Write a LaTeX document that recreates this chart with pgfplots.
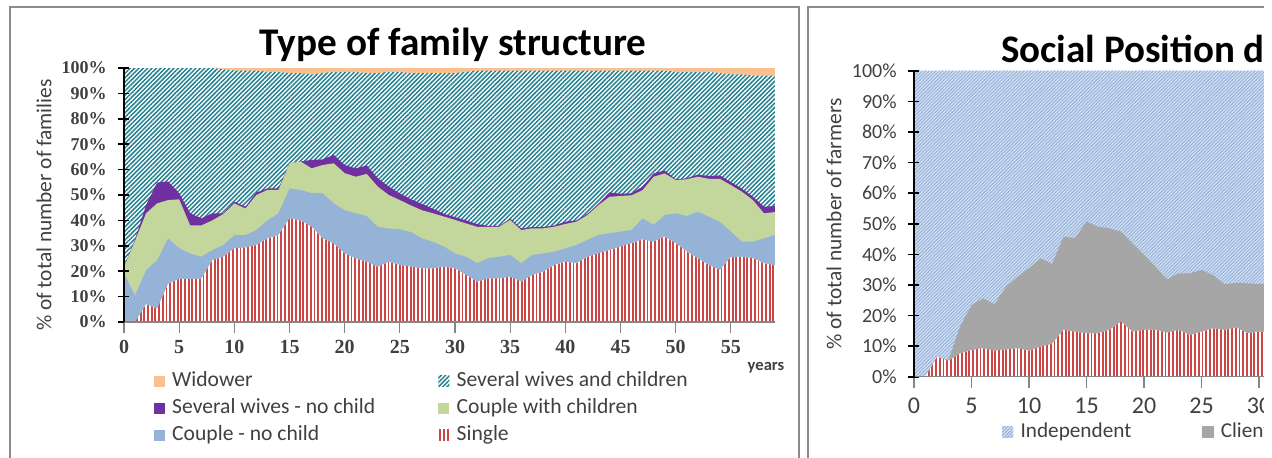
\documentclass[border=0pt]{standalone}
\usepackage{fontspec}
\setmainfont{Carlito}
\newfontfamily\tickserif{Liberation Serif}
\usepackage{pgfplots}
\pgfplotsset{compat=1.18}
\usepackage{pgfplotstable}
\usetikzlibrary{patterns.meta}

\definecolor{widow}{RGB}{250,192,144}
\definecolor{tealh}{RGB}{35,128,145}
\definecolor{purp}{RGB}{112,48,160}
\definecolor{cgreen}{RGB}{195,214,155}
\definecolor{cblue}{RGB}{149,179,215}
\definecolor{redh}{RGB}{205,70,70}
\definecolor{indep}{RGB}{150,178,220}
\definecolor{indepbg}{RGB}{212,225,242}
\definecolor{client}{RGB}{166,166,166}
\definecolor{frame}{RGB}{140,140,140}
\definecolor{axgray}{RGB}{134,134,134}
\definecolor{txt}{RGB}{64,64,64}

% cumulative boundaries (%): r = Single, b = + Couple no child, g = + Couple with children,
% p = + Several wives no child, t = + Several wives and children, all = + Widower
\pgfplotstableread{
x r b g p t all
0 0 19 21.7 21.7 100 100
1 0 10.5 32 32.5 100 100
2 7 20.4 42.8 46 100 100
3 5.3 24.3 46.7 54.9 100 100
4 15 32.9 48 55.3 100 100
5 17 29 48.3 50.7 100 100
6 17 27 38 42.8 100 100
7 17 25.7 38 40.8 100 100
8 24.3 28.3 40 42.8 100 100
9 25.7 30.3 42.5 42.8 99.5 100
10 29 34.2 46.7 47.4 99 100
11 29.3 34.2 44.7 45.4 99 100
12 30.3 36.2 50 51 99 100
13 32.9 40 52 52.6 98.5 100
14 34.2 42.8 52 52.6 98.5 100
15 40.8 52.6 62.5 62.5 98 100
16 40 52 63.2 63.2 98 100
17 37.5 50.7 60.5 63.8 97.5 100
18 32.9 50.7 61.8 64 98 100
19 30.9 46.7 62.5 65.8 98.5 100
20 27 44 58.6 61.8 98.5 100
21 25 42.8 57.2 60.5 98.5 100
22 23.7 41.7 58.3 61.6 98 100
23 21.7 37.5 53.3 56.6 98 100
24 23.7 36.8 50 53.3 98.5 100
25 22.4 36.5 48 50.6 98.5 100
26 21.8 35.4 45.9 48.3 98 100
27 21.1 32.9 44 46.5 98 100
28 21.1 31.6 42.8 44.6 98 100
29 21.8 29.7 41.5 42.6 98 100
30 21.1 27 40.2 41.3 98 100
31 18.5 25.7 38.8 40 98.5 100
32 15.9 23.1 37.5 38.6 99 100
33 17.2 25.1 37.5 37.8 99 100
34 17.2 25.7 37.5 37.8 99 100
35 17.8 26.4 40.2 40.7 99 100
36 15.9 23.1 36.2 36.8 99 100
37 18.5 26.4 36.9 37.4 99 100
38 19.8 27 36.9 37.4 99 100
39 22.4 27.7 37.5 38 99 100
40 23.8 29 38.6 39.5 99 100
41 23.1 30.3 39.5 40 99 100
42 25.7 32.3 42.1 42.6 99 100
43 27 34.3 46 46.6 99 100
44 28.3 34.9 49.3 51 99 100
45 29.7 35.6 49.6 50.5 99 100
46 31 36.2 49.9 50.7 99 100
47 32.5 40.8 51.9 53.3 99 100
48 31.6 38.2 57.2 58.5 99 100
49 33.6 42.1 58.5 59.6 99 100
50 31 42.8 55.9 56.2 98.5 100
51 27.7 41.7 56.2 56.6 98.5 100
52 25.1 43.4 57.2 58 98.5 100
53 22.4 41.5 56.4 57.5 98.5 100
54 20.5 39.5 56.4 57.7 98 100
55 25.5 35.6 53.9 55.1 97.5 100
56 25.7 31.6 51.3 52.5 97.5 100
57 25.1 31.6 48 49.3 97 100
58 23.1 32.9 42.8 45.4 97 100
59 22.4 34.3 43.3 45.6 97 100
}\famdata

% cumulative boundaries (%): r = red series, g = + Clients, all = + Independent
\pgfplotstableread{
x r g all
0 0 0 100
1 0 0 100
2 6.5 6.5 100
3 5.2 5.5 100
4 7.6 16.3 100
5 8.7 23.4 100
6 9.3 25.6 100
7 8.5 23.7 100
8 8.9 29.4 100
9 9.3 32.7 100
10 8.5 35.4 100
11 9.8 38.7 100
12 10.7 36.8 100
13 15.3 45.8 100
14 14.7 45.2 100
15 14.2 50.7 100
16 14.2 49 100
17 15.3 48.5 100
18 18 47.4 100
19 14.7 43.6 100
20 15.3 39.8 100
21 15.3 35.9 100
22 14.4 31.8 100
23 15.3 33.8 100
24 13.6 33.8 100
25 14.7 34.9 100
26 15.8 33.2 100
27 15.3 30.2 100
28 16.1 30.7 100
29 14.2 30.5 100
30 14.7 30.3 100
31 14.5 30.3 100
}\socdata

\pgfplotsset{
  panel/.style={
    scale only axis, enlargelimits=false, ymin=0, ymax=100,
    axis on top,
    axis x line*=bottom, axis y line*=left,
    x axis line style={-, draw=axgray, line width=0.6pt},
    y axis line style={-, draw=black, line width=0.8pt},
    tick align=outside, major tick length=5.5pt,
    ytick={0,10,...,100},
    ytick style={draw=black, line width=0.8pt, xshift=2.6pt},
    xtick style={draw=axgray, line width=0.6pt},
    /pgf/number format/assume math mode=true,
    yticklabel={\pgfmathprintnumber{\tick}\%},
    legend cell align=left,
    legend image code/.code={\path[##1] (0pt,-2.8pt) rectangle (5.6pt,2.8pt);},
  },
  tealpat/.style={fill=white, draw=none, postaction={pattern={Lines[angle=45,distance=1.55pt,line width=0.75pt]}, pattern color=tealh}},
  redpat/.style={fill=white, draw=none, postaction={pattern={Lines[angle=90,distance=1.85pt,line width=0.95pt]}, pattern color=redh}},
  bluepat/.style={fill=indepbg, draw=none, postaction={pattern={Lines[angle=45,distance=1.2pt,line width=0.5pt]}, pattern color=indep}},
}

\begin{document}
\begin{tikzpicture}
% panel frames
\draw[frame, line width=0.75pt] (5pt,-5pt) -- (5pt,225pt) -- (399.5pt,225pt) -- (399.5pt,-5pt);
\draw[frame, line width=0.75pt] (404pt,-5pt) -- (404pt,225pt) -- (700pt,225pt);

% ---------- left panel ----------
\node[anchor=base, font=\bfseries\fontsize{19.6}{21}\selectfont] at (226.5pt,201pt) {Type of family structure};
\node[rotate=90, font=\fontsize{10.7}{12}\selectfont, text=txt] at (22pt,126pt) {\% of total number of families};
\node[font=\bfseries\fontsize{8.3}{10}\selectfont, text=txt] at (383pt,44.5pt) {years};

\begin{axis}[panel,
  at={(62pt,67.5pt)}, anchor=south west,
  width=325.5pt, height=127pt,
  xmin=0, xmax=59, xtick={0,5,...,55},
  xticklabel style={anchor=center, yshift=-7pt, font=\tickserif\bfseries\fontsize{10}{12}\selectfont, text=txt},
  yticklabel style={anchor=east, inner sep=0pt, xshift=-3pt, font=\tickserif\bfseries\fontsize{9}{11}\selectfont, text=txt},
  legend columns=2,
  legend style={at={(0.036,-0.175)}, anchor=north west, draw=none, fill=none,
    font=\fontsize{10.8}{12}\selectfont, text=txt,
    nodes={inner sep=0pt, text height=8pt, text depth=2.5pt},
    row sep=3pt,
    /tikz/every odd column/.style={column sep=3.6pt},
    /tikz/every even column/.style={column sep=31.5pt}},
]
\addplot[fill=widow, draw=none] table[x=x, y=all] {\famdata} \closedcycle;
\addplot[tealpat] table[x=x, y=t] {\famdata} \closedcycle;
\addplot[fill=purp, draw=none] table[x=x, y=p] {\famdata} \closedcycle;
\addplot[fill=cgreen, draw=none] table[x=x, y=g] {\famdata} \closedcycle;
\addplot[fill=cblue, draw=none] table[x=x, y=b] {\famdata} \closedcycle;
\addplot[redpat] table[x=x, y=r] {\famdata} \closedcycle;
\legend{Widower, Several wives and children, Several wives - no child, Couple with children, Couple - no child, Single}
\end{axis}

% ---------- right panel ----------
\node[anchor=base west, font=\bfseries\fontsize{19.5}{21}\selectfont] at (497pt,197.5pt) {Social Position distribution};
\node[rotate=90, font=\fontsize{10.7}{12}\selectfont, text=txt] at (417pt,116.5pt) {\% of total number of farmers};

\begin{axis}[panel,
  at={(457pt,40.15pt)}, anchor=south west,
  width=339.25pt, height=153pt,
  xmin=0, xmax=59, xtick={0,5,...,55},
  xticklabel style={anchor=center, yshift=-9pt, font=\fontsize{12}{14}\selectfont, text=txt},
  yticklabel style={anchor=east, inner sep=0pt, xshift=-3pt, font=\fontsize{10}{12}\selectfont, text=txt},
  legend columns=2,
  legend style={at={(0.1206,-0.132)}, anchor=north west, draw=none, fill=none,
    font=\fontsize{10.6}{12}\selectfont, text=txt,
    nodes={inner sep=0pt, text height=8pt, text depth=2.5pt},
    /tikz/every odd column/.style={column sep=3.6pt},
    /tikz/every even column/.style={column sep=35.5pt}},
]
\addplot[bluepat] table[x=x, y=all] {\socdata} \closedcycle;
\addplot[fill=client, draw=none] table[x=x, y=g] {\socdata} \closedcycle;
\addplot[redpat, forget plot] table[x=x, y=r] {\socdata} \closedcycle;
\legend{Independent, Clients}
\end{axis}

\fill[white] (632pt,-10pt) rectangle (720pt,240pt);
\pgfresetboundingbox
\path[use as bounding box] (0pt,0pt) rectangle (636pt,228.5pt);
\end{tikzpicture}
\end{document}
